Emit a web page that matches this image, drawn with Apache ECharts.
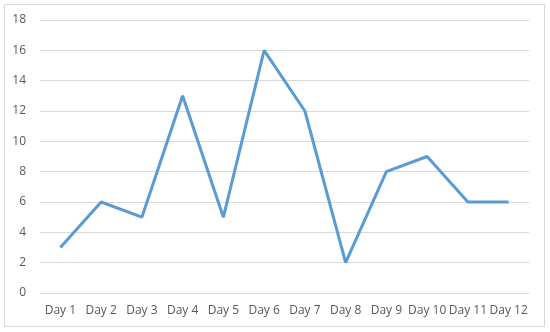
<!DOCTYPE html>
<html>
<head>
<meta charset="utf-8">
<script src="https://cdn.jsdelivr.net/npm/echarts@6/dist/echarts.min.js"></script>
<style>
  html, body { margin: 0; padding: 0; background: #fff; }
  #chart { position: absolute; left: 4px; top: 4px; width: 541px; height: 323px;
           border: 1px solid #d9d9d9; box-sizing: border-box; }
</style>
</head>
<body>
<div id="chart"></div>
<script>
const days = ["Day 1", "Day 2", "Day 3", "Day 4", "Day 5", "Day 6",
  "Day 7", "Day 8", "Day 9", "Day 10", "Day 11", "Day 12"];
const values = [3, 6, 5, 13, 5, 16, 12, 2, 8, 9, 6, 6];

const chart = echarts.init(document.getElementById("chart"), null, { renderer: "canvas" });
chart.setOption({
  animation: false,
  grid: { left: 35, right: 15, top: 15, bottom: 33 },
  xAxis: {
    type: "category",
    data: days,
    axisLine: { lineStyle: { color: "#d9d9d9", width: 1 } },
    axisTick: { show: false },
    axisLabel: { color: "#595959", fontSize: 12, fontFamily: "Open Sans", margin: 12, interval: 0 }
  },
  yAxis: {
    type: "value",
    min: 0,
    max: 18,
    interval: 2,
    axisLine: { show: false },
    axisTick: { show: false },
    axisLabel: { color: "#595959", fontSize: 12, fontFamily: "Open Sans", margin: 14 },
    splitLine: { lineStyle: { color: "#d9d9d9", width: 1 } }
  },
  series: [{
    type: "line",
    data: values,
    symbol: "none",
    lineStyle: { color: "#5b9bd5", width: 3 },
    itemStyle: { color: "#5b9bd5" }
  }]
});
</script>
</body>
</html>
